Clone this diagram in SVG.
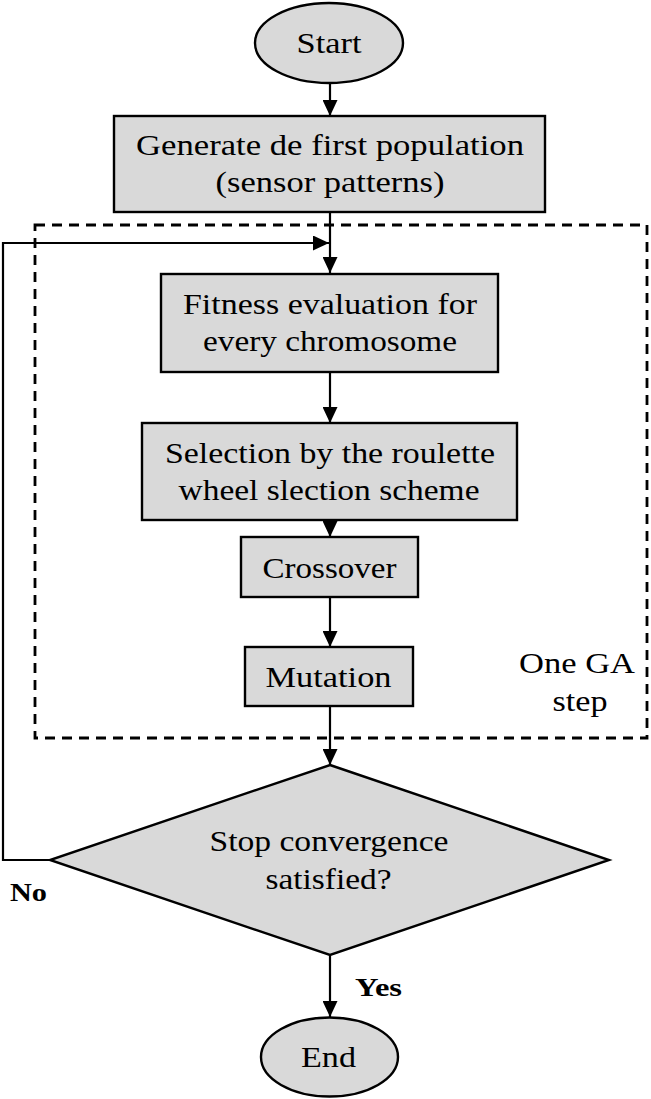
<svg xmlns="http://www.w3.org/2000/svg" width="651" height="1099" viewBox="0 0 651 1099">
<style>
.node{fill:#d9d9d9;stroke:#000;stroke-width:2.4}
.t{font-family:"Liberation Serif","Times New Roman",serif;font-size:30px;fill:#000;text-anchor:middle}
.b{font-family:"Liberation Serif","Times New Roman",serif;font-size:26px;font-weight:bold;fill:#000}
.edge{fill:none;stroke:#000;stroke-width:2.2}
.dash{fill:none;stroke:#000;stroke-width:2.8;stroke-dasharray:10 7}
</style>
<defs>
<marker id="arr" viewBox="0 0 16 15" refX="16" refY="7.5" markerWidth="16" markerHeight="15" markerUnits="userSpaceOnUse" orient="auto">
<path d="M0,0 L16,7.5 L0,15 Z" fill="#000"/>
</marker>
</defs>
<rect width="651" height="1099" fill="#fff"/>
<g id="ga-step">
<rect class="dash" x="35" y="225" width="612" height="513"/>
<text class="t" x="577" y="673" textLength="116" lengthAdjust="spacingAndGlyphs">One GA</text>
<text class="t" x="580" y="711" textLength="55" lengthAdjust="spacingAndGlyphs">step</text>
</g>
<g id="connectors">
<line class="edge" x1="330" y1="83" x2="330" y2="116" marker-end="url(#arr)"/>
<line class="edge" x1="330" y1="213" x2="330" y2="273" marker-end="url(#arr)"/>
<line class="edge" x1="330" y1="372" x2="330" y2="423" marker-end="url(#arr)"/>
<line class="edge" x1="330" y1="520" x2="330" y2="537" marker-end="url(#arr)"/>
<line class="edge" x1="330" y1="597" x2="330" y2="647" marker-end="url(#arr)"/>
<line class="edge" x1="330" y1="706" x2="330" y2="765" marker-end="url(#arr)"/>
<line class="edge" x1="330" y1="955" x2="330" y2="1017" marker-end="url(#arr)"/>
<path class="edge" d="M50,860 H3 V243 H329" stroke-width="3" marker-end="url(#arr)"/>
<text class="b" x="10" y="901" textLength="37" lengthAdjust="spacingAndGlyphs">No</text>
<text class="b" x="355" y="996" textLength="47" lengthAdjust="spacingAndGlyphs">Yes</text>
</g>
<g id="start">
<ellipse class="node" cx="329" cy="43" rx="74" ry="40"/>
<text class="t" x="329" y="53" textLength="65" lengthAdjust="spacingAndGlyphs">Start</text>
</g>
<g id="generate">
<rect class="node" x="114" y="116" width="431" height="96"/>
<text class="t" x="330" y="155" textLength="388" lengthAdjust="spacingAndGlyphs">Generate de first population</text>
<text class="t" x="330" y="192" textLength="229" lengthAdjust="spacingAndGlyphs">(sensor patterns)</text>
</g>
<g id="fitness">
<rect class="node" x="161" y="274" width="337" height="98"/>
<text class="t" x="330" y="314" textLength="294" lengthAdjust="spacingAndGlyphs">Fitness evaluation for</text>
<text class="t" x="330" y="351" textLength="254" lengthAdjust="spacingAndGlyphs">every chromosome</text>
</g>
<g id="selection">
<rect class="node" x="142" y="423" width="375" height="97"/>
<text class="t" x="330" y="463" textLength="330" lengthAdjust="spacingAndGlyphs">Selection by the roulette</text>
<text class="t" x="329" y="500" textLength="301" lengthAdjust="spacingAndGlyphs">wheel slection scheme</text>
</g>
<g id="crossover">
<rect class="node" x="241" y="537" width="177" height="60"/>
<text class="t" x="329.5" y="578" textLength="134" lengthAdjust="spacingAndGlyphs">Crossover</text>
</g>
<g id="mutation">
<rect class="node" x="245" y="647" width="168" height="59"/>
<text class="t" x="328.5" y="687" textLength="126" lengthAdjust="spacingAndGlyphs">Mutation</text>
</g>
<g id="decision">
<polygon class="node" points="330,765 609,860 330,955 50,860"/>
<text class="t" x="329" y="851" textLength="239" lengthAdjust="spacingAndGlyphs">Stop convergence</text>
<text class="t" x="328.5" y="889" textLength="126" lengthAdjust="spacingAndGlyphs">satisfied?</text>
</g>
<g id="end">
<ellipse class="node" cx="329.5" cy="1057" rx="68.5" ry="39.5"/>
<text class="t" x="328.5" y="1067" textLength="55" lengthAdjust="spacingAndGlyphs">End</text>
</g>
</svg>
